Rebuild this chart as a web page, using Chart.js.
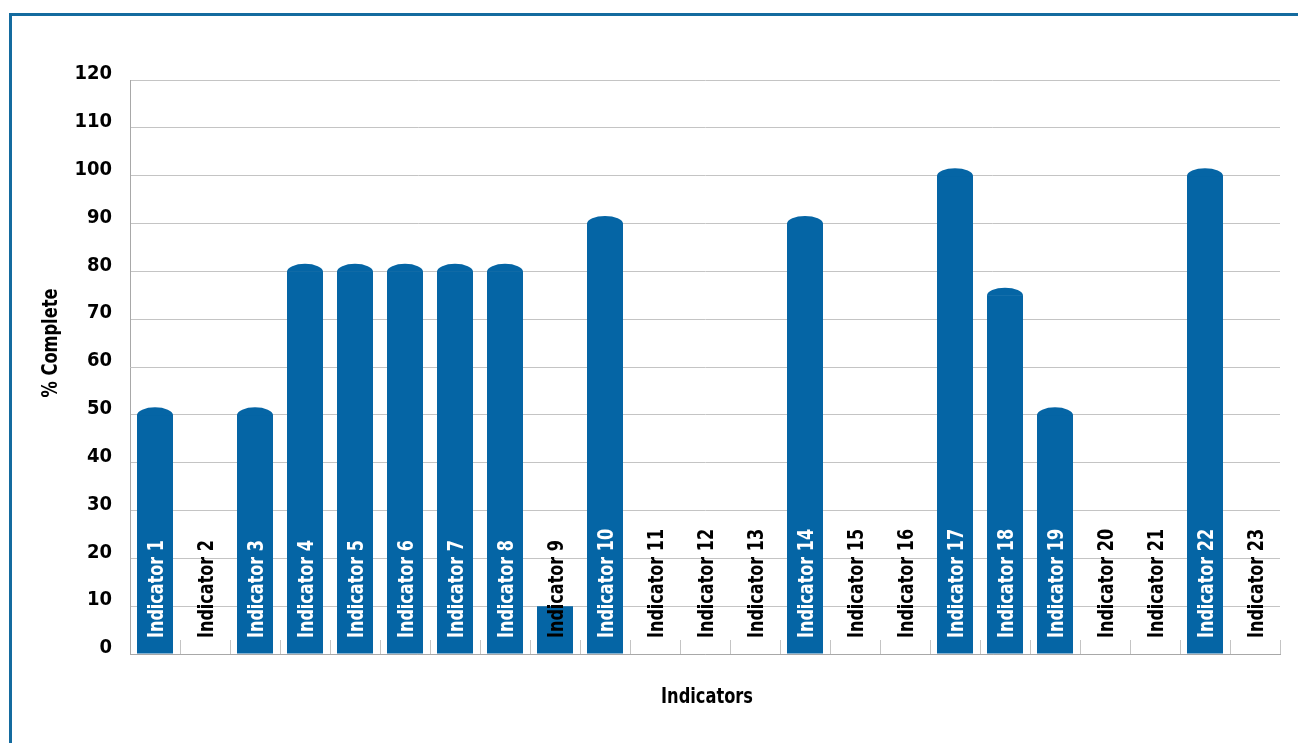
<!DOCTYPE html>
<html>
<head>
<meta charset="utf-8">
<title>% Complete by Indicator</title>
<script src="https://cdn.jsdelivr.net/npm/chart.js@4.4.1/dist/chart.umd.min.js"></script>
<style>
  html, body { margin: 0; padding: 0; background: #ffffff; }
  #wrap { position: relative; width: 1298px; height: 743px; }
  canvas { display: block; }
</style>
</head>
<body>
<div id="wrap"><canvas id="chart" width="1298" height="743"></canvas></div>
<script>
// Indicator names along the x axis
const categories = [
  'Indicator 1', 'Indicator 2', 'Indicator 3', 'Indicator 4', 'Indicator 5',
  'Indicator 6', 'Indicator 7', 'Indicator 8', 'Indicator 9', 'Indicator 10',
  'Indicator 11', 'Indicator 12', 'Indicator 13', 'Indicator 14', 'Indicator 15',
  'Indicator 16', 'Indicator 17', 'Indicator 18', 'Indicator 19', 'Indicator 20',
  'Indicator 21', 'Indicator 22', 'Indicator 23'
];

// Percentage complete for each indicator
const percentComplete = [
  50, 0, 50, 80, 80,
  80, 80, 80, 10, 90,
  0, 0, 0, 90, 0,
  0, 100, 75, 50, 0,
  0, 100, 0
];

// Top shape of each bar: rounded dome or flat
const barTops = [
  'round', 'round', 'round', 'round', 'round',
  'round', 'round', 'round', 'flat', 'round',
  'round', 'round', 'round', 'round', 'round',
  'round', 'round', 'round', 'round', 'round',
  'round', 'round', 'round'
];

// Value axis tick values
const yTicks = [0, 10, 20, 30, 40, 50, 60, 70, 80, 90, 100, 110, 120];

// Axis titles
const xTitle = 'Indicators';
const yTitle = '% Complete';

const BAR_COLOR = '#0565a5';
const FRAME_COLOR = '#146b9f';
const GRID_COLOR = '#c4c4c4';
const AXIS_COLOR = '#a8a8a8';
const FONT_FAMILY = '"Liberation Sans Narrow", "DejaVu Sans Condensed", "Liberation Sans", sans-serif';
const NARROW = 0.82;

// White page with the blue frame on the top and left
const framePlugin = {
  id: 'frame',
  beforeDraw(chart) {
    const ctx = chart.ctx;
    ctx.save();
    ctx.fillStyle = '#ffffff';
    ctx.fillRect(0, 0, chart.width, chart.height);
    ctx.fillStyle = FRAME_COLOR;
    ctx.fillRect(9, 13, chart.width - 9, 3);
    ctx.fillRect(9, 13, 3, chart.height - 13);
    ctx.restore();
  }
};

// Domed bar tops, category separators, indicator names and axis titles
const decorPlugin = {
  id: 'decor',
  afterDatasetsDraw(chart) {
    const ctx = chart.ctx;
    const meta = chart.getDatasetMeta(0);
    const xScale = chart.scales.x;
    const yScale = chart.scales.y;
    const area = chart.chartArea;
    ctx.save();

    // rounded caps on top of the bars
    ctx.fillStyle = BAR_COLOR;
    meta.data.forEach((bar, i) => {
      if (percentComplete[i] <= 0 || barTops[i] !== 'round') return;
      const half = bar.width / 2;
      ctx.beginPath();
      ctx.ellipse(bar.x, bar.y + 0.5, half, 8, 0, Math.PI, 2 * Math.PI);
      ctx.closePath();
      ctx.fill();
    });

    // short separators between categories, rising from the baseline
    const step = (xScale.right - xScale.left) / categories.length;
    ctx.strokeStyle = GRID_COLOR;
    ctx.lineWidth = 1;
    for (let i = 1; i <= categories.length; i++) {
      const x = Math.round(xScale.left + step * i) + 0.5;
      ctx.beginPath();
      ctx.moveTo(x, area.bottom);
      ctx.lineTo(x, area.bottom - 14);
      ctx.stroke();
    }

    // indicator names written upward inside the plot, in a narrow cut
    ctx.font = 'bold 22px ' + FONT_FAMILY;
    ctx.textAlign = 'left';
    ctx.textBaseline = 'alphabetic';
    const base = yScale.getPixelForValue(0);
    categories.forEach((name, i) => {
      const cx = xScale.getPixelForValue(i);
      ctx.save();
      ctx.translate(cx + 8, base - 16);
      ctx.rotate(-Math.PI / 2);
      ctx.scale(0.81, 1);
      ctx.fillStyle = percentComplete[i] >= 50 ? '#ffffff' : '#000000';
      ctx.fillText(name, 0, 0);
      ctx.restore();
    });

    // axis titles
    ctx.fillStyle = '#000000';
    ctx.font = 'bold 22px ' + FONT_FAMILY;
    ctx.textAlign = 'center';
    ctx.textBaseline = 'middle';

    ctx.save();
    ctx.translate((area.left + area.right) / 2 + 2, area.bottom + 43);
    ctx.scale(NARROW, 1);
    ctx.fillText(xTitle, 0, 0);
    ctx.restore();

    ctx.save();
    ctx.translate(51, (area.top + area.bottom) / 2 - 24);
    ctx.rotate(-Math.PI / 2);
    ctx.scale(NARROW, 1);
    ctx.fillText(yTitle, 0, 0);
    ctx.restore();

    ctx.restore();
  }
};

new Chart(document.getElementById('chart'), {
  type: 'bar',
  data: {
    labels: categories,
    datasets: [{
      label: yTitle,
      data: percentComplete,
      backgroundColor: BAR_COLOR,
      borderWidth: 0,
      barPercentage: 0.72,
      categoryPercentage: 1.0
    }]
  },
  options: {
    responsive: false,
    animation: false,
    events: [],
    layout: { padding: { left: 0, top: 80, right: 18, bottom: 0 } },
    plugins: {
      legend: { display: false },
      tooltip: { enabled: false }
    },
    scales: {
      x: {
        grid: { display: false, drawTicks: false },
        border: { display: true, color: AXIS_COLOR, width: 1 },
        ticks: { display: false },
        afterFit(scale) { scale.height = 89; }
      },
      y: {
        min: 0,
        max: 120,
        afterBuildTicks(scale) { scale.ticks = yTicks.map(v => ({ value: v })); },
        grid: { color: GRID_COLOR, lineWidth: 1, drawTicks: false },
        border: { display: true, color: AXIS_COLOR, width: 1 },
        ticks: {
          color: '#000000',
          padding: 18,
          labelOffset: -6,
          font: { family: FONT_FAMILY, size: 20, weight: 'bold' }
        },
        afterFit(scale) { scale.width = 130; }
      }
    }
  },
  plugins: [framePlugin, decorPlugin]
});
</script>
</body>
</html>
